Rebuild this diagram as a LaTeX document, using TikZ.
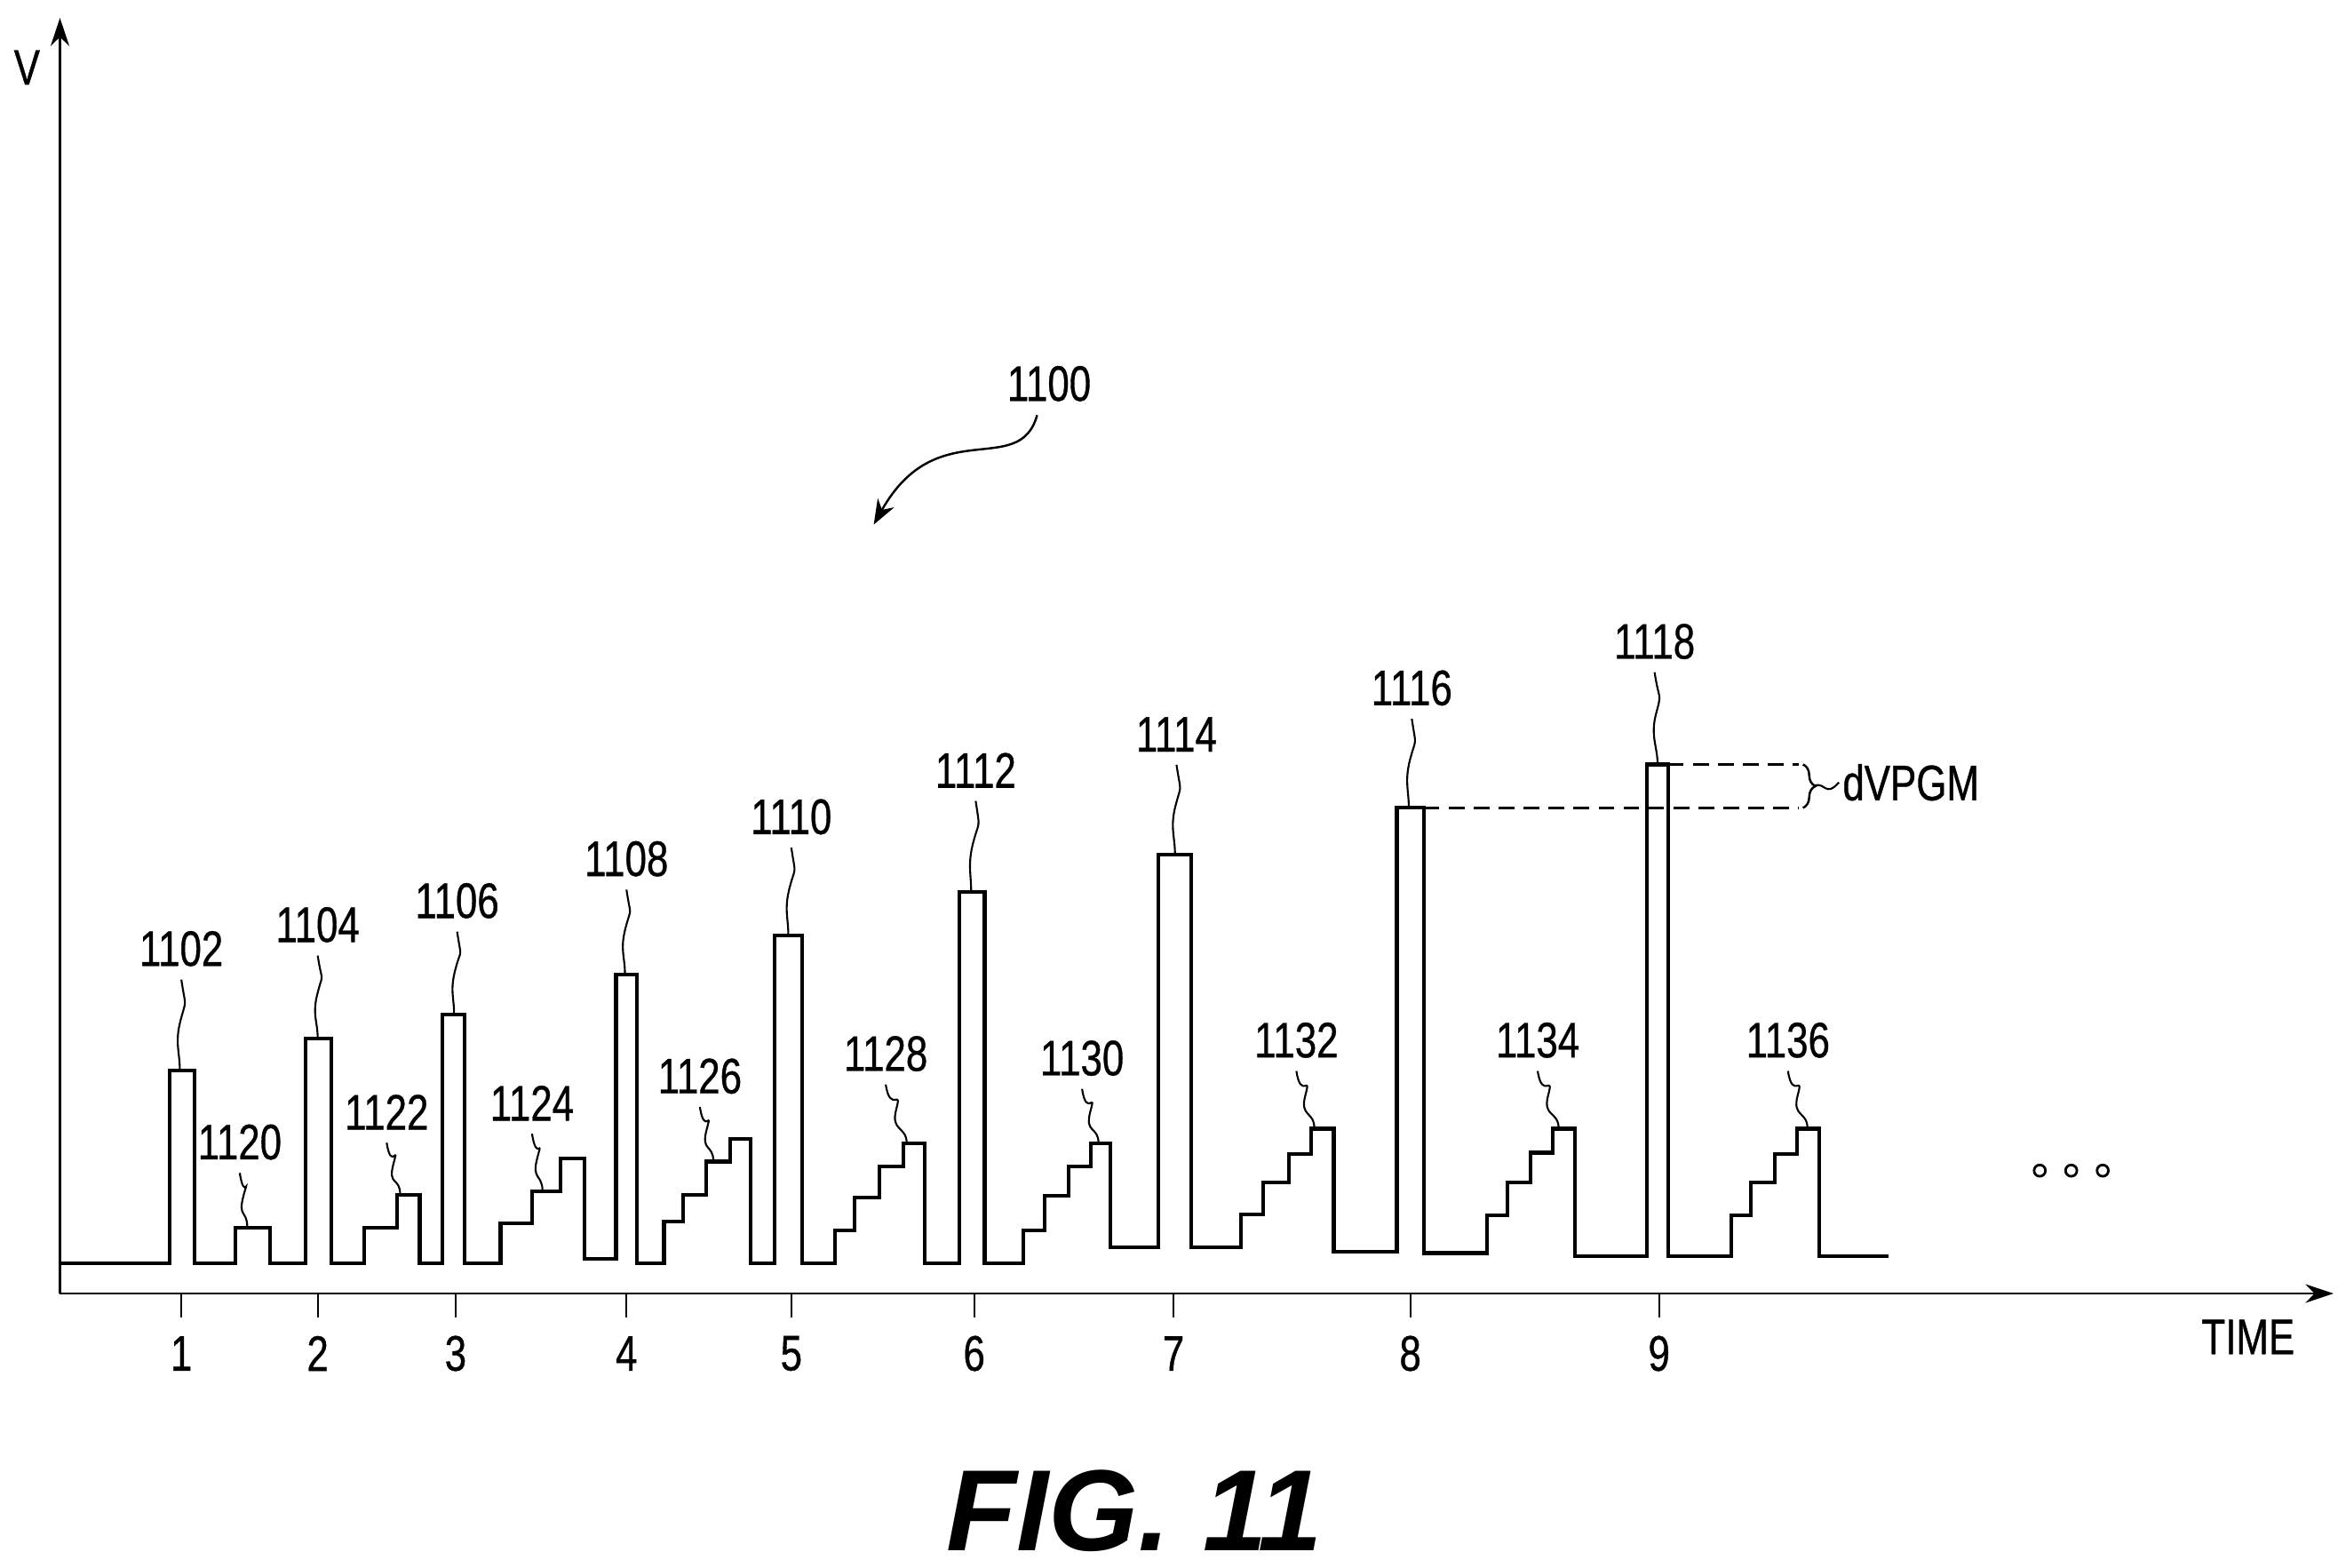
\documentclass[tikz,border=0pt]{standalone}
\usepackage{fontspec}
\setmainfont{Liberation Sans}
\newfontfamily\narrowf[FakeStretch=0.78,FakeBold=0.6]{Liberation Sans}
\usetikzlibrary{arrows.meta,decorations.pathreplacing,calc}
\begin{document}
\begin{tikzpicture}[x=0.016872cm,y=-0.016872cm,
  lbl/.style={font=\narrowf\fontsize{16}{16}\selectfont,inner sep=1pt},
  wave/.style={line width=1.2pt,line join=miter},
  lead/.style={line width=0.6pt},
  ax/.style={line width=0.7pt}]
\useasboundingbox (0,0) rectangle (1560,1046);
% axes
\coordinate (o) at (40,863);
\coordinate (ytop) at (40,12);
\coordinate (xend) at (1557,863);
\draw[ax,-{Stealth[length=9pt,width=6pt]}] (o) -- (ytop);
\draw[ax,-{Stealth[length=9pt,width=6pt]}] (o) -- (xend);
\node[lbl] (V) at (18,45) {V};
\node[lbl] (T) at (1500,892) {TIME};
\foreach \x/\n in {121/1,212/2,304/3,418/4,528/5,650/6,783/7,941/8,1107/9}{
  \coordinate (t\n) at (\x,863); \coordinate (tb\n) at (\x,879);
  \draw[lead] (t\n) -- (tb\n);
  \node[lbl] (n\n) at (\x,903) {\n};
}
% waveform
\draw[wave] (40,843) -- (113,843) |- (130,714) |- (157,843) |- (180,819) |- (204,843)
 |- (221,693) |- (243,843) |- (265,819) |- (280,797) |- (295,843)
 |- (310,677) |- (334,843) |- (355,816) |- (374,795) |- (390,773) |- (411,840)
 |- (425,650) |- (443,843) |- (456,815) |- (471,797) |- (487,775) |- (501,760) |- (517,843)
 |- (535,624) |- (557,843) |- (570,821) |- (587,799) |- (603,778) |- (617,763) |- (640,843)
 |- (657,595) |- (683,843) |- (697,821) |- (713,798) |- (728,778) |- (741,763) |- (773,832)
 |- (795,570) |- (828,832) |- (843,810) |- (860,789) |- (875,770) |- (890,753) |- (932,835)
 |- (950,539) |- (992,836) |- (1006,811) |- (1021,789) |- (1036,769) |- (1051,753) |- (1099,838)
 |- (1113,510) |- (1155,838) |- (1168,811) |- (1184,789) |- (1199,770) |- (1214,753) |- (1214,838) -- (1260,838);
% dVPGM
\coordinate (d1) at (950,539); \coordinate (d1e) at (1200,539);
\coordinate (d2) at (1113,510); \coordinate (d2e) at (1200,510);
\draw[lead,dash pattern=on 5pt off 3pt,line width=0.7pt] (d1) -- (d1e);
\draw[lead,dash pattern=on 5pt off 3pt,line width=0.7pt] (d2) -- (d2e);
\draw[lead,line width=0.7pt,decorate,decoration={brace,amplitude=4pt}] (1203,510) -- (1203,539);
\node[lbl,anchor=west] (dv) at (1227,522) {dVPGM};
\coordinate (bt) at (1211,524);
\draw[lead] (bt) .. controls (1218,522) and (1218,532) .. (dv.west);
% labels
\foreach \nm/\lx/\ly/\px/\py in {1102/121/633/120/714, 1104/212/617/212/693, 1106/305/601/303/677,
 1108/418/573/417/650, 1110/528/545/526/624, 1112/651/514/648/595, 1114/785/490/784/570,
 1116/942/459/940/539, 1118/1104/428/1106/510, 1120/160/762/165/819, 1122/258/742/267/797,
 1124/355/736/362/795, 1126/467/718/476/775, 1128/591/703/605/763, 1130/722/706/733/763,
 1132/865/694/877/753, 1134/1026/694/1040/753, 1136/1193/694/1206/753}{
 \node[lbl] (L\nm) at (\lx,\ly) {\nm};
 \coordinate (P\nm) at (\px,\py);
 \draw[lead] ([yshift=-3pt]L\nm.south) .. controls +(3,20) and +(4,-15) .. ($(L\nm.south)!0.5!(P\nm)$) .. controls +(-4,15) and +(0,-12) .. (P\nm);
}
% 1100
\node[lbl] (L1100) at (700,256) {1100};
\coordinate (a1100) at (583,350);
\draw[lead,line width=0.7pt,-{Stealth[length=8pt,width=6pt]}] (692,277) .. controls (680,320) and (625,275) .. (a1100);
% dots
\foreach \x/\i in {1361/1,1382/2,1403/3}{\coordinate (c\i) at (\x,781); \draw[line width=0.8pt] (c\i) circle[radius=3.8];}
\node[font=\bfseries\itshape\fontsize{37}{37}\selectfont,inner sep=0pt] (fig) at (757,1008) {FIG. 11};
\end{tikzpicture}
\end{document}
